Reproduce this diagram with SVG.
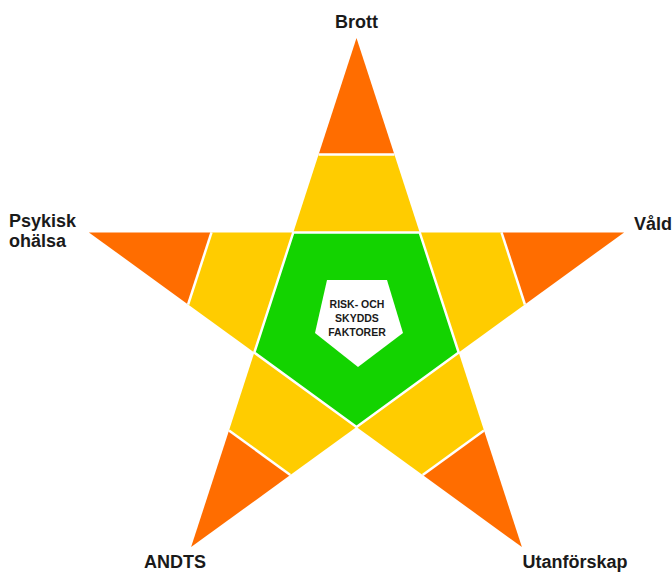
<svg xmlns="http://www.w3.org/2000/svg" width="672" height="572" viewBox="0 0 672 572">
<style>
.tip{fill:#FF6D00}
.band{fill:#FFCC00}
.sep{stroke:#FFFFFF;stroke-width:2.5;fill:none}
.core{fill:#13D300;stroke:#FFFFFF;stroke-width:2.5;stroke-linejoin:miter}
.lbl{font-family:"Liberation Sans",Arial,sans-serif;font-weight:bold;font-size:18px;fill:#1A1A1A}
.inner{font-family:"Liberation Sans",Arial,sans-serif;font-weight:bold;font-size:10.5px;fill:#1A1A1A;text-anchor:middle}
</style>
<rect width="672" height="572" fill="#FFFFFF"/>
<g id="arm-brott">
<polygon class="tip" points="356.5,38 318.6,154.6 394.4,154.6"/>
<polygon class="band" points="318.6,154.6 394.4,154.6 419.7,232.4 293.3,232.4"/>
<line class="sep" x1="318.6" y1="154.6" x2="394.4" y2="154.6"/>
<text class="lbl" x="356.5" y="28" text-anchor="middle">Brott</text>
</g>
<g id="arm-vald">
<polygon class="tip" points="624.1,232.4 501.5,232.4 524.9,304.5"/>
<polygon class="band" points="501.5,232.4 524.9,304.5 458.7,352.6 419.7,232.4"/>
<line class="sep" x1="501.5" y1="232.4" x2="524.9" y2="304.5"/>
<text class="lbl" x="634" y="230">Våld</text>
</g>
<g id="arm-utanforskap">
<polygon class="tip" points="521.9,547.1 484.0,430.4 422.7,475.0"/>
<polygon class="band" points="484.0,430.4 422.7,475.0 356.5,426.9 458.7,352.6"/>
<line class="sep" x1="484.0" y1="430.4" x2="422.7" y2="475.0"/>
<text class="lbl" x="522.5" y="567.5">Utanförskap</text>
</g>
<g id="arm-andts">
<polygon class="tip" points="191.1,547.1 290.3,475.0 229.0,430.4"/>
<polygon class="band" points="290.3,475.0 229.0,430.4 254.3,352.6 356.5,426.9"/>
<line class="sep" x1="290.3" y1="475.0" x2="229.0" y2="430.4"/>
<text class="lbl" x="144" y="567.5">ANDTS</text>
</g>
<g id="arm-psykisk">
<polygon class="tip" points="88.9,232.4 188.1,304.5 211.5,232.4"/>
<polygon class="band" points="188.1,304.5 211.5,232.4 293.3,232.4 254.3,352.6"/>
<line class="sep" x1="188.1" y1="304.5" x2="211.5" y2="232.4"/>
<text class="lbl" x="9" y="226.5">Psykisk</text>
<text class="lbl" x="9" y="246.5">ohälsa</text>
</g>
<g id="center">
<polygon class="core" points="293.3,232.4 419.7,232.4 458.7,352.6 356.5,426.9 254.3,352.6"/>
<polygon fill="#FFFFFF" points="327,280 387,280 403,333 358,367 315,333"/>
<text class="inner" x="357" y="308">RISK- OCH</text>
<text class="inner" x="357" y="322">SKYDDS</text>
<text class="inner" x="357" y="336">FAKTORER</text>
</g>
</svg>
